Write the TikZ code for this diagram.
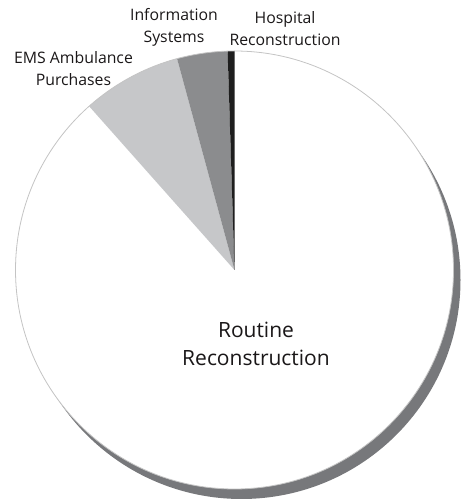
\documentclass[tikz,border=0pt]{standalone}
\usepackage{fontspec}
\setmainfont{Open Sans}
\definecolor{shadowgray}{HTML}{77787B}
\definecolor{emsgray}{HTML}{C6C7C9}
\definecolor{infogray}{HTML}{8B8C8E}
\definecolor{hospblack}{HTML}{1E1E1E}
\definecolor{rim}{HTML}{C4C4C4}
\definecolor{ink}{HTML}{1A1718}
\begin{document}
\begin{tikzpicture}[x=1pt,y=1pt,
  smalllabel/.style={align=center,inner sep=0pt,text=ink,
    font=\fontsize{15.8}{22}\selectfont},
  biglabel/.style={align=center,inner sep=0pt,text=ink,
    font=\fontsize{21}{28}\selectfont}]
  \useasboundingbox (0,0) rectangle (462,503);
  \coordinate (c) at (234.5,233);
  \def\R{219}
  % drop shadow behind the disc
  \fill[shadowgray] ([shift={(7,-10)}]c) circle (\R);
  % disc and slices
  \fill[white] (c) circle (\R);
  \fill[emsgray] (c) -- ++(105.2:\R) arc (105.2:131.6:\R) -- cycle;
  \fill[infogray] (c) -- ++(91.8:\R) arc (91.8:105.2:\R) -- cycle;
  \fill[hospblack] (c) -- ++(90:\R) arc (90:91.8:\R) -- cycle;
  \draw[rim,line width=0.8pt] (c) circle (\R);
  % labels (anchored on the baseline of their last line)
  \node[smalllabel,anchor=base] (ems) at (73.5,417) {EMS Ambulance\\Purchases};
  \node[smalllabel,anchor=base] (info) at (174,460) {Information\\Systems};
  \node[smalllabel,anchor=base] (hosp) at (285,457) {Hospital\\Reconstruction};
  \node[biglabel,anchor=base] (routine) at (256,137) {Routine\\Reconstruction};
\end{tikzpicture}
\end{document}
